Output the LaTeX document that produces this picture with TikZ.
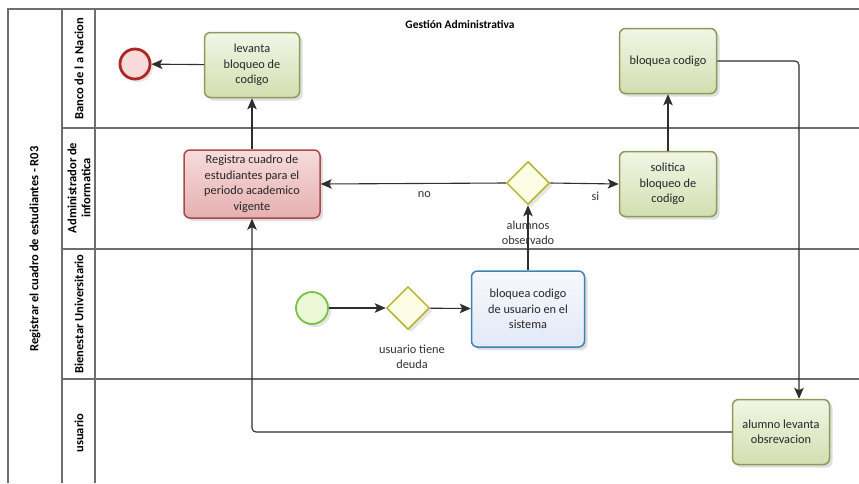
\documentclass[tikz,border=0pt]{standalone}
\usepackage{fontspec}
\setmainfont{Carlito}
\usetikzlibrary{arrows.meta,shapes.geometric,shadows}

\definecolor{lanegray}{HTML}{6E6E6E}
\definecolor{flowgray}{HTML}{2E2E2E}
\definecolor{greenline}{HTML}{8A9C5A}
\definecolor{greentop}{HTML}{F2F6E6}
\definecolor{greenbot}{HTML}{D3DEB0}
\definecolor{redline}{HTML}{A94A4A}
\definecolor{redtop}{HTML}{F7DCDC}
\definecolor{redbot}{HTML}{E6AFAF}
\definecolor{blueline}{HTML}{3A85B5}
\definecolor{bluetop}{HTML}{F6F8FD}
\definecolor{bluebot}{HTML}{E2E9F6}
\definecolor{gateline}{HTML}{B5B532}
\definecolor{gatefill}{HTML}{FDFDE6}
\definecolor{startline}{HTML}{7BBF45}
\definecolor{startfill}{HTML}{EAF8D8}
\definecolor{endline}{HTML}{B02525}
\definecolor{endfill}{HTML}{F8DADA}

\tikzset{
  lane/.style={draw=lanegray, line width=1.1pt},
  lanelabel/.style={rotate=90, font=\fontsize{12.5}{14}\selectfont\bfseries, align=center},
  task/.style={rectangle, rounded corners=6pt, line width=1.5pt, align=center,
    font=\fontsize{12.3}{15.5}\selectfont, inner sep=2pt, text=black!85,
    drop shadow={opacity=0.25, shadow xshift=3pt, shadow yshift=-3pt}},
  greentask/.style={task, draw=greenline, top color=greentop, bottom color=greenbot},
  redtask/.style={task, draw=redline, top color=redtop, bottom color=redbot},
  bluetask/.style={task, draw=blueline, top color=bluetop, bottom color=bluebot},
  gateway/.style={diamond, draw=gateline, fill=gatefill, line width=1.5pt,
    minimum width=43pt, minimum height=43pt, inner sep=0pt,
    drop shadow={opacity=0.2, shadow xshift=3pt, shadow yshift=-3pt}},
  startevent/.style={circle, draw=startline, fill=startfill, line width=1.8pt,
    minimum size=32pt, inner sep=0pt,
    drop shadow={opacity=0.2, shadow xshift=3pt, shadow yshift=-3pt}},
  endevent/.style={circle, draw=endline, fill=endfill, line width=2.8pt,
    minimum size=30pt, inner sep=0pt,
    drop shadow={opacity=0.2, shadow xshift=3pt, shadow yshift=-3pt}},
  flow/.style={draw=flowgray, line width=1.1pt, rounded corners=4pt,
    -{Stealth[length=11pt,width=9.5pt,inset=2.5pt]}},
  flowlabel/.style={font=\fontsize{12.3}{15}\selectfont, align=center, text=black!80},
}

\begin{document}
\begin{tikzpicture}[x=1pt,y=-1pt]
\useasboundingbox (0,0) rectangle (859,483);
\fill[white] (0,0) rectangle (859,483);

% pool frame and lanes
\draw[lane] (8,483) -- (8,9) -- (859,9);
\draw[lane] (62,9) -- (62,483);
\draw[lane] (95,9) -- (95,483);
\draw[lane] (62,128) -- (859,128);
\draw[lane] (62,249) -- (859,249);
\draw[lane] (62,379) -- (859,379);

\node[lanelabel] (pooltitle) at (35,249) {Registrar el cuadro de estudiantes - R03};
\node[lanelabel] (laneA) at (79,69) {Banco de l a Nacion};
\node[lanelabel] (laneB) at (79,188) {Administrador de\\informatica};
\node[lanelabel] (laneC) at (79,314) {Bienestar Universitario};
\node[lanelabel] (laneD) at (79,433) {usuario};
\node[font=\fontsize{11.5}{14}\selectfont\bfseries] (group) at (460,24) {Gestión Administrativa};

% flow objects
\node[endevent] (fin) at (135,64) {};
\node[greentask, minimum width=95pt, minimum height=65pt] (levanta) at (252,65) {levanta\\bloqueo de\\codigo};
\node[redtask, minimum width=136pt, minimum height=68pt] (registra) at (252,184) {Registra cuadro de\\estudiantes para el\\periodo academico\\vigente};
\node[gateway] (gwobs) at (528,183) {};
\node[greentask, minimum width=97pt, minimum height=65pt] (solicita) at (668,184) {solitica\\bloqueo de\\codigo};
\node[greentask, minimum width=97pt, minimum height=65pt] (bloquea) at (668,61) {bloquea codigo};
\node[startevent] (inicio) at (312,308) {};
\node[gateway] (gwdeuda) at (408,308) {};
\node[bluetask, minimum width=113pt, minimum height=76pt] (bloqusr) at (528,309) {bloquea codigo\\de usuario en el\\sistema};
\node[greentask, minimum width=97pt, minimum height=65pt] (alumno) at (781,432) {alumno levanta\\obsrevacion};

% sequence flows
\draw[flow] (levanta) -- (fin);
\draw[flow] (registra) -- (levanta);
\draw[flow] (gwobs.west) -- node[flowlabel, pos=0.44, below=4pt] (lblno) {no} (registra.east);
\draw[flow] (gwobs.east) -- node[flowlabel, pos=0.66, below=4pt] (lblsi) {si} (solicita.west);
\draw[flow] (bloqusr.north) -- (gwobs.south);
\draw[flow] (solicita) -- (bloquea);
\draw[flow] (bloquea.east) -| ([xshift=18pt]alumno.north);
\draw[flow] (alumno.west) -| (registra.south);
\draw[flow] (inicio) -- (gwdeuda);
\draw[flow] (gwdeuda) -- (bloqusr);

% gateway labels
\node[flowlabel] (lblobs) at (528,233) {alumnos\\observado};
\node[flowlabel] (lbldeuda) at (412,357) {usuario tiene\\deuda};
\end{tikzpicture}
\end{document}
